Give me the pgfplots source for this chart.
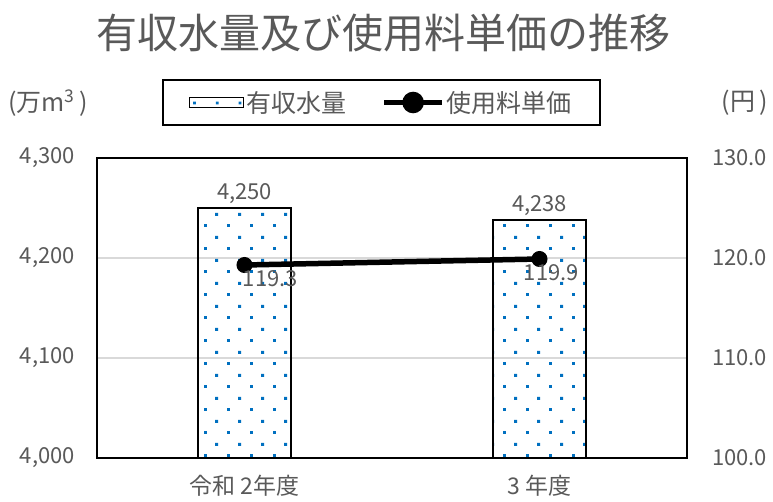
\documentclass[border=0pt]{standalone}
\usepackage{pgfplots}
\pgfplotsset{compat=1.18}
\usepackage{fontspec}
\setmainfont{Noto Sans CJK JP}
\usetikzlibrary{patterns,calc}
\definecolor{txtgray}{RGB}{89,89,89}
\definecolor{dotblue}{RGB}{0,112,192}
\definecolor{gridgray}{RGB}{217,217,217}
\pgfdeclarepatternformonly{mydots}{\pgfqpoint{0pt}{0pt}}{\pgfqpoint{22.8pt}{22.8pt}}{\pgfqpoint{22.8pt}{22.8pt}}{%
 \pgfpathrectangle{\pgfqpoint{0pt}{0pt}}{\pgfqpoint{2.9pt}{2.9pt}}%
 \pgfpathrectangle{\pgfqpoint{11.4pt}{11.4pt}}{\pgfqpoint{2.9pt}{2.9pt}}%
 \pgfusepath{fill}}
\begin{document}
\begin{tikzpicture}
\begin{axis}[name=a1, scale only axis, width=590bp, height=300bp,
 clip mode=individual,
 ybar, bar width=0.315,
 xmin=-0.5, xmax=1.5, ymin=4000, ymax=4300,
 ytick={4000,4100,4200,4300},
 xtick={0,1}, xticklabels={令和 2年度, 3 年度},
 ytick pos=left, xtick pos=bottom,
 major tick length=0pt,
 ymajorgrids, grid style={gridgray, line width=1.2bp},
 axis line style={black, line width=1.3bp},
 ticklabel style={font=\fontsize{22bp}{26bp}\selectfont, text=txtgray},
 yticklabel style={inner sep=0pt, xshift=-22bp},
 xticklabel style={inner sep=0pt, yshift=-17bp, font=\fontsize{23bp}{27bp}\selectfont},
 /pgf/number format/1000 sep={,},
 /pgf/number format/assume math mode=true,
]
\addplot[draw=black, line width=1.5bp, pattern=mydots, pattern color=dotblue,
  nodes near coords,
  every node near coord/.append style={anchor=base, inner sep=0pt, yshift=9bp, font=\fontsize{22bp}{26bp}\selectfont, text=txtgray}]
  coordinates {(0,4250) (1,4238)};
\node[text=txtgray, font=\fontsize{41bp}{48bp}\selectfont] at (rel axis cs:0.485,1.417) {有収水量及び使用料単価の推移};
\node[text=txtgray, font=\fontsize{25bp}{29bp}\selectfont] at (rel axis cs:-0.083,1.183) {(万m\textsuperscript{3}\,)};
\node[text=txtgray, font=\fontsize{25bp}{29bp}\selectfont] at (rel axis cs:1.098,1.183) {(円\,)};
\end{axis}
\begin{axis}[scale only axis, width=590bp, height=300bp,
 xmin=-0.5, xmax=1.5, ymin=100, ymax=130,
 ytick={100,110,120,130},
 axis y line*=right, hide x axis,
 major tick length=0pt,
 axis line style={black, line width=1.3bp},
 ticklabel style={font=\fontsize{22bp}{26bp}\selectfont, text=txtgray},
 yticklabel style={inner sep=0pt, xshift=25bp},
 /pgf/number format/fixed, /pgf/number format/fixed zerofill,
 /pgf/number format/precision=1,
 /pgf/number format/assume math mode=true,
 legend style={at={(0.482,1.185)}, anchor=center, draw=black, line width=1.5bp,
   font=\fontsize{25bp}{29bp}\selectfont, text=txtgray, inner xsep=26bp, inner ysep=9bp,
   /tikz/every even column/.append style={column sep=33bp}},
 legend columns=2,
]
\addlegendimage{legend image code/.code={\draw[draw=black, line width=1.5bp, pattern=mydots, pattern color=dotblue] (0bp,-5bp) rectangle (54bp,5bp);}}
\addlegendentry{有収水量}
\addplot[black, line width=5.5bp, mark=*, mark size=7.5bp, mark options={fill=black, line width=1bp},
  visualization depends on={\thisrow{dx} \as \dx},
  nodes near coords,
  every node near coord/.append style={anchor=north, inner sep=0pt, xshift=\dx pt, yshift=-5bp, font=\fontsize{22bp}{26bp}\selectfont, text=txtgray},
  legend image code/.code={\draw[black, line width=5.5bp] (0bp,0bp) -- (58bp,0bp); \fill[black] (29bp,0bp) circle (8bp);}]
  table[x=x, y=y, row sep=\\] {x y dx \\ 0 119.3 26 \\ 1 119.9 12 \\};
\addlegendentry{使用料単価}
\end{axis}
\pgfresetboundingbox
\path[use as bounding box] ($(a1.south west)+(-97bp,-44bp)$) rectangle ($(a1.north east)+(86bp,158bp)$);
\end{tikzpicture}
\end{document}
